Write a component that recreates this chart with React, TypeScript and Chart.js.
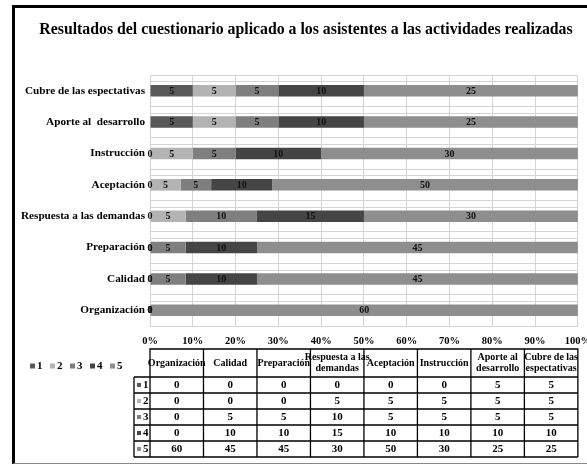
import React, { useEffect, useRef } from "react";
import { Chart, registerables } from "chart.js";

Chart.register(...registerables);

const titleText = "Resultados del cuestionario aplicado a los asistentes a las actividades realizadas";
const categories = [
  "Organización",
  "Calidad",
  "Preparación",
  "Respuesta a las demandas",
  "Aceptación",
  "Instrucción",
  "Aporte al  desarrollo",
  "Cubre de las espectativas",
];
const tableHeaders = [
  ["Organización"],
  ["Calidad"],
  ["Preparación"],
  ["Respuesta a las", "demandas"],
  ["Aceptación"],
  ["Instrucción"],
  ["Aporte al", "desarrollo"],
  ["Cubre de las", "espectativas"],
];
const seriesNames = ["1", "2", "3", "4", "5"];
const serie1 = [0, 0, 0, 0, 0, 0, 5, 5];
const serie2 = [0, 0, 0, 5, 5, 5, 5, 5];
const serie3 = [0, 5, 5, 10, 5, 5, 5, 5];
const serie4 = [0, 10, 10, 15, 10, 10, 10, 10];
const serie5 = [60, 45, 45, 30, 50, 30, 25, 25];
const seriesColors = ["#595959", "#b3b3b3", "#7f7f7f", "#454545", "#8e8e8e"];
const xTickValues = [0, 10, 20, 30, 40, 50, 60, 70, 80, 90, 100];

const FONT = "'Liberation Serif', 'Times New Roman', serif";

export default function App() {
  const ref = useRef<HTMLCanvasElement | null>(null);

  useEffect(() => {
    const canvas = ref.current;
    if (!canvas) return;
    const series = [serie1, serie2, serie3, serie4, serie5];
    const totals = categories.map((_, i) => series.reduce((s, arr) => s + arr[i], 0));

    const titleDraw = {
      id: "titleDraw",
      afterDraw(chart: any) {
        const { ctx } = chart;
        ctx.save();
        ctx.font = `bold 15.8px ${FONT}`;
        ctx.fillStyle = "#000";
        ctx.textAlign = "center";
        ctx.textBaseline = "middle";
        ctx.fillText(titleText, chart.width / 2 + 6, 30);
        ctx.restore();
      },
    };

    const extraLines = {
      id: "extraLines",
      beforeDatasetsDraw(chart: any) {
        const { ctx, chartArea } = chart;
        const ys = chart.scales.y;
        const band = chartArea.height / categories.length;
        ctx.save();
        ctx.strokeStyle = "#d4d4d4";
        ctx.lineWidth = 1;
        categories.forEach((_, i) => {
          const c = ys.getPixelForValue(i);
          const y = Math.round(c - band / 2 + band * 0.2) + 0.5;
          ctx.beginPath();
          ctx.moveTo(chartArea.left, y);
          ctx.lineTo(chartArea.right, y);
          ctx.stroke();
        });
        ctx.restore();
      },
    };

    const barLabels = {
      id: "barLabels",
      afterDatasetsDraw(chart: any) {
        const { ctx } = chart;
        ctx.save();
        ctx.font = `bold 10px ${FONT}`;
        ctx.fillStyle = "#111";
        ctx.textAlign = "center";
        ctx.textBaseline = "middle";
        chart.data.datasets.forEach((ds: any, di: number) => {
          const meta = chart.getDatasetMeta(di);
          meta.data.forEach((el: any, i: number) => {
            const p = el.getProps(["x", "y", "base"], true);
            const cx = (p.x + p.base) / 2;
            ctx.fillText(String(series[di][i]), cx, p.y + 0.5);
          });
        });
        ctx.restore();
      },
    };

    const dataTable = {
      id: "dataTable",
      afterDraw(chart: any) {
        const { ctx, chartArea } = chart;
        const left = chartArea.left;
        const right = chartArea.right;
        const colW = (right - left) / categories.length;
        const keyLeft = left - 16;
        const top = chartArea.bottom + 23;
        const headerH = 28;
        const rowH = 16;
        const bodyTop = top + headerH;
        const bottom = bodyTop + rowH * series.length;

        ctx.save();
        ctx.strokeStyle = "#000";
        ctx.lineWidth = 1.3;
        ctx.beginPath();
        ctx.moveTo(left, bottom);
        ctx.lineTo(left, top);
        ctx.lineTo(right, top);
        ctx.lineTo(right, bottom);
        for (let c = 1; c < categories.length; c++) {
          const x = left + colW * c;
          ctx.moveTo(x, top);
          ctx.lineTo(x, bottom);
        }
        for (let r = 0; r <= series.length; r++) {
          const y = bodyTop + rowH * r;
          ctx.moveTo(keyLeft, y);
          ctx.lineTo(right, y);
        }
        ctx.moveTo(keyLeft, bodyTop);
        ctx.lineTo(keyLeft, bottom);
        ctx.stroke();

        ctx.fillStyle = "#000";
        ctx.textAlign = "center";
        ctx.textBaseline = "middle";
        ctx.font = `bold 10px ${FONT}`;
        tableHeaders.forEach((lines, c) => {
          const cx = left + colW * (c + 0.5);
          const lh = 11;
          const y0 = top + headerH / 2 - ((lines.length - 1) * lh) / 2;
          lines.forEach((t, k) => ctx.fillText(t, cx, y0 + k * lh));
        });
        ctx.font = `bold 11px ${FONT}`;
        series.forEach((arr, r) => {
          const cy = bodyTop + rowH * (r + 0.5);
          arr.forEach((v, c) => {
            ctx.fillText(String(v), left + colW * (c + 0.5), cy + 0.5);
          });
          ctx.fillStyle = seriesColors[r];
          ctx.fillRect(keyLeft + 3, cy - 2, 4, 4);
          ctx.fillStyle = "#000";
          ctx.textAlign = "left";
          ctx.fillText(seriesNames[r], keyLeft + 9, cy + 0.5);
          ctx.textAlign = "center";
        });

        const ly = bodyTop - 11;
        ctx.textAlign = "left";
        seriesNames.forEach((n, k) => {
          const x = 30 + k * 20;
          ctx.fillStyle = seriesColors[k];
          ctx.fillRect(x, ly - 2.5, 5, 5);
          ctx.fillStyle = "#000";
          ctx.fillText(n, x + 7, ly + 0.5);
        });
        ctx.restore();
      },
    };

    const chart = new Chart(canvas, {
      type: "bar",
      data: {
        labels: categories,
        datasets: series.map((vals, k) => ({
          label: seriesNames[k],
          data: vals.map((v, i) => (v / totals[i]) * 100),
          backgroundColor: seriesColors[k],
          borderWidth: 0,
          barPercentage: 0.37,
          categoryPercentage: 1,
        })),
      },
      options: {
        indexAxis: "y",
        animation: false,
        responsive: false,
        maintainAspectRatio: false,
        layout: { padding: { left: 0, right: 22, top: 75, bottom: 0 } },
        plugins: {
          legend: { display: false },
          tooltip: { enabled: false },
          title: { display: false },
        },
        scales: {
          x: {
            stacked: true,
            min: 0,
            max: 100,
            afterBuildTicks: (s: any) => {
              s.ticks = xTickValues.map((v) => ({ value: v }));
            },
            ticks: {
              callback: (v: any) => v + "%",
              color: "#000",
              font: { family: FONT, size: 10.5, weight: "bold" },
              padding: 9,
              maxRotation: 0,
            },
            grid: { color: "#d4d4d4", drawTicks: false },
            border: { display: false },
            afterFit: (s: any) => {
              s.height = 142;
            },
          },
          y: {
            stacked: true,
            reverse: true,
            ticks: {
              color: "#000",
              font: { family: FONT, size: 11.2, weight: "bold" },
              padding: 5,
            },
            grid: { color: "#d4d4d4", drawTicks: false, offset: true },
            border: { display: false },
            afterFit: (s: any) => {
              s.width = 150;
            },
          },
        },
      },
      plugins: [extraLines, barLabels, dataTable, titleDraw],
    } as any);

    return () => chart.destroy();
  }, []);

  return (
    <div
      style={{
        position: "fixed",
        left: 0,
        top: 0,
        width: 587,
        height: 468,
        overflow: "hidden",
        background: "#fff",
      }}
    >
      <canvas
        ref={ref}
        width={600}
        height={468}
        style={{ position: "absolute", left: 0, top: 0, width: 600, height: 468 }}
      />
      <div
        style={{
          position: "absolute",
          left: 12,
          top: 5,
          width: 620,
          height: 459,
          boxSizing: "border-box",
          borderLeft: "3px solid #000",
          borderTop: "3px solid #000",
          borderBottom: "1px solid #888",
          pointerEvents: "none",
        }}
      />
    </div>
  );
}
